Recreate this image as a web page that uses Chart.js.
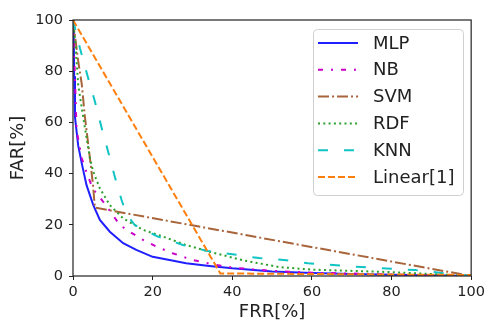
<!DOCTYPE html>
<html>
<head>
<meta charset="utf-8">
<script src="https://cdn.jsdelivr.net/npm/chart.js@4/dist/chart.umd.min.js"></script>
<style>
    body { margin: 0; background: #fff; }
    #wrap { width: 489px; height: 323px; }
</style>
</head>
<body>
<div id="wrap"><canvas id="farChart" width="489" height="323"></canvas></div>
<script>
// =====================================
// Data (FRR %, FAR %)
// =====================================
const tickValues = [0, 20, 40, 60, 80, 100];

const mlpFrr = [0, 0.2, 0.3, 0.5, 1.3, 2.2, 3.4, 5.1, 6.75, 9.25, 12.6, 15.9, 20, 24.25, 28.4, 34.25, 40, 50, 60, 70, 80, 100];
const mlpFar = [100, 92, 78, 62, 51, 44, 35.5, 27.7, 21.9, 17.3, 12.8, 10.2, 7.5, 6.25, 5, 3.9, 3, 1.8, 1.2, 0.8, 0.5, 0];

const nbFrr = [0, 0.5, 0.9, 2.2, 3.5, 5, 7.6, 10, 11.75, 14.25, 17.2, 20.9, 25, 30, 35, 40, 50, 60, 80, 100];
const nbFar = [100, 77, 57, 46, 40, 34, 29, 23.8, 19.9, 17.3, 14.4, 11.5, 8.9, 6.25, 4.6, 3.3, 2, 1.3, 0.6, 0];

const svmFrr = [0, 1.3, 2.2, 3, 4.25, 5, 5.5, 100];
const svmFar = [100, 84, 75, 62, 46, 36, 26.7, 0];

const rdfFrr = [0, 0.5, 1.3, 2.6, 4.25, 5.1, 6.75, 9.25, 12.6, 17.6, 22.6, 28.4, 34.25, 42.5, 51.7, 60, 80, 100];
const rdfFar = [100, 93, 74.7, 61.7, 46, 40.7, 34.2, 27.7, 22.5, 18, 15.4, 12.1, 9.5, 6.2, 3.5, 2.5, 1.5, 0];

const knnFrr = [0, 1.75, 3.8, 5.5, 7.2, 8.8, 10.5, 12.2, 13.5, 15.5, 21.3, 27.6, 33.8, 40, 46.7, 53.5, 59, 72.5, 86, 92.5, 100];
const knnFar = [100, 89, 77.3, 68.2, 57.8, 48.7, 38.8, 29.7, 24, 19.9, 15.4, 12.1, 9.8, 8.5, 7, 6.2, 5, 3.5, 2.3, 1.2, 0];

const linFrr = [0, 37, 100];
const linFar = [100, 1, 0.4];

// =====================================
// Helpers
// =====================================
const toPoints = (xs, ys) => xs.map((x, i) => ({ x: x, y: ys[i] }));

function makeSeries(label, xs, ys, color, dash, order) {
    return {
        label: label,
        data: toPoints(xs, ys),
        borderColor: color,
        borderDash: dash,
        borderWidth: 2,
        pointRadius: 0,
        fill: false,
        tension: 0,
        order: order
    };
}

// Spines around the plot area (matplotlib style box)
const frameBox = {
    id: "frameBox",
    afterDatasetsDraw(chart) {
        const { ctx, chartArea: a } = chart;
        ctx.save();
        ctx.strokeStyle = "#222";
        ctx.lineWidth = 1.2;
        ctx.strokeRect(a.left, a.top, a.right - a.left, a.bottom - a.top);
        ctx.restore();
    }
};

// Legend box in the upper right, drawn like matplotlib's
const innerLegend = {
    id: "innerLegend",
    afterDraw(chart) {
        const ctx = chart.ctx;
        const sets = chart.data.datasets;
        ctx.save();
        ctx.beginPath();
        ctx.roundRect(313.5, 29.5, 150, 166, 4);
        ctx.fillStyle = "rgba(255,255,255,0.85)";
        ctx.fill();
        ctx.strokeStyle = "#d0d0d0";
        ctx.lineWidth = 1;
        ctx.stroke();

        ctx.font = "18px 'DejaVu Sans'";
        ctx.textBaseline = "middle";
        ctx.textAlign = "left";
        sets.forEach((ds, i) => {
            const y = 43 + i * 26.8;
            ctx.beginPath();
            ctx.setLineDash(ds.borderDash || []);
            ctx.strokeStyle = ds.borderColor;
            ctx.lineWidth = ds.borderWidth;
            ctx.moveTo(318, y);
            ctx.lineTo(358, y);
            ctx.stroke();
            ctx.setLineDash([]);
            ctx.fillStyle = "#222";
            ctx.fillText(ds.label, 373, y + 1);
        });
        ctx.restore();
    }
};

const tickFont = { family: "'DejaVu Sans'", size: 14.5 };
const titleFont = { family: "'DejaVu Sans'", size: 18 };

new Chart(document.getElementById("farChart").getContext("2d"), {
    type: "line",
    data: {
        datasets: [
            makeSeries("MLP", mlpFrr, mlpFar, "#1f1fff", [], 6),
            makeSeries("NB", nbFrr, nbFar, "#c800c8", [5, 8, 2, 8], 5),
            makeSeries("SVM", svmFrr, svmFar, "#a8643a", [11, 3, 2, 3], 4),
            makeSeries("RDF", rdfFrr, rdfFar, "#2ca02c", [2, 3.3], 3),
            makeSeries("KNN", knnFrr, knnFar, "#10c4c4", [10, 16], 2),
            makeSeries("Linear[1]", linFrr, linFar, "#ff7f0e", [7, 3], 1)
        ]
    },
    options: {
        responsive: false,
        animation: false,
        layout: { padding: { left: 0, top: 20, right: 16, bottom: 0 } },
        plugins: { legend: { display: false }, tooltip: { enabled: false } },
        scales: {
            x: {
                type: "linear",
                min: 0,
                max: 100,
                afterBuildTicks: s => { s.ticks = tickValues.map(v => ({ value: v })); },
                afterFit: s => { s.height = 47; },
                grid: { drawOnChartArea: false, drawTicks: true, tickLength: 4, color: "#222" },
                border: { display: false },
                ticks: { font: tickFont, color: "#222", padding: 4, maxRotation: 0 },
                title: { display: true, text: "FRR[%]", font: titleFont, color: "#222", padding: { top: 0, bottom: 0 } }
            },
            y: {
                type: "linear",
                min: 0,
                max: 100,
                afterBuildTicks: s => { s.ticks = tickValues.map(v => ({ value: v })); },
                afterFit: s => { s.width = 73; },
                grid: { drawOnChartArea: false, drawTicks: true, tickLength: 4, color: "#222" },
                border: { display: false },
                ticks: { font: tickFont, color: "#222", padding: 6 },
                title: { display: true, text: "FAR[%]", font: titleFont, color: "#222", padding: { top: 8, bottom: 0 } }
            }
        }
    },
    plugins: [frameBox, innerLegend]
});
</script>
</body>
</html>
